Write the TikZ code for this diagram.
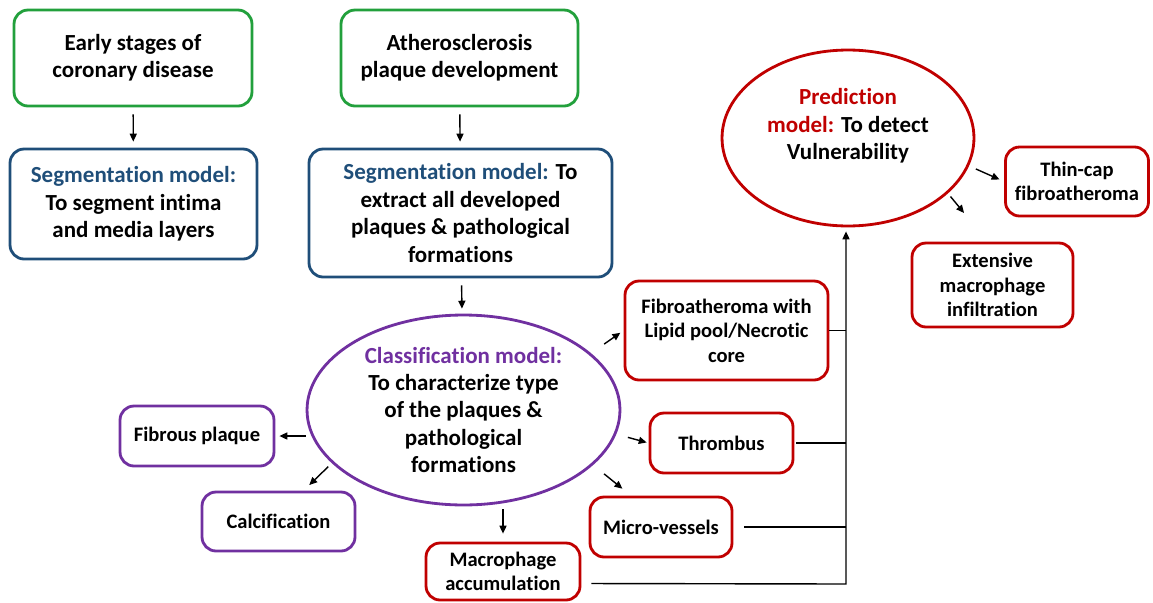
\documentclass[tikz,border=0pt]{standalone}
\usepackage{fontspec}
\setmainfont{Carlito}[Ligatures=NoCommon]
\usetikzlibrary{shapes.geometric,arrows.meta}
\definecolor{boxgreen}{HTML}{22A03C}
\definecolor{segblue}{HTML}{1F4E79}
\definecolor{clspurple}{HTML}{7030A0}
\definecolor{predred}{HTML}{C00000}

\begin{document}
\begin{tikzpicture}[x=0.02cm, y=-0.02cm,
		stagebox/.style={draw, line width=1.6pt, rounded corners=0.28cm, align=center, inner sep=0pt,
			font=\bfseries\fontsize{13.1}{15.6}\selectfont},
		leaf/.style={stagebox, font=\bfseries\fontsize{11.7}{13.9}\selectfont},
		oval/.style={draw, ellipse, line width=1.6pt, align=center, inner sep=0pt,
			font=\bfseries\fontsize{13.1}{15.6}\selectfont},
		arr/.style={-{Triangle[length=4.5pt,width=4pt]}, line width=0.8pt},
		link/.style={line width=0.8pt}]
		\useasboundingbox (0,0) rectangle (1153,602);

		% Starting points
		\node[stagebox, draw=boxgreen, minimum width=4.76cm, minimum height=1.92cm] (early) at (133,58)
			{Early stages of\\coronary disease};
		\node[stagebox, draw=boxgreen, minimum width=4.74cm, minimum height=1.92cm] (athero) at (459.5,58)
			{Atherosclerosis\\plaque development};

		% Segmentation
		\node[stagebox, draw=segblue, minimum width=4.94cm, minimum height=2.2cm] (seg1) at (133.5,204)
			{\textcolor{segblue}{Segmentation model:}\\To segment intima\\and media layers};
		\node[stagebox, draw=segblue, minimum width=6.06cm, minimum height=2.56cm] (seg2) at (460.5,213)
			{\textcolor{segblue}{Segmentation model:} To\\extract all developed\\plaques \& pathological\\formations};

		% Classification
		\node[oval, draw=clspurple, minimum width=6.26cm, minimum height=3.8cm] (class) at (463.5,410)
			{\textcolor{clspurple}{Classification model:}\\To characterize type\\of the plaques \&\\pathological\\formations};
		\node[leaf, draw=clspurple, minimum width=3.08cm, minimum height=1.2cm] (fib) at (197,436) {Fibrous plaque};
		\node[leaf, draw=clspurple, minimum width=3.06cm, minimum height=1.18cm] (calc) at (278.5,521.5) {Calcification};
		\node[leaf, draw=predred, minimum width=3.08cm, minimum height=1.14cm] (macro) at (503,571.5)
			{Macrophage\\accumulation};
		\node[leaf, draw=predred, minimum width=4.06cm, minimum height=1.98cm] (fibro) at (726.5,330.5)
			{Fibroatheroma with\\Lipid pool/Necrotic\\core};
		\node[leaf, draw=predred, minimum width=2.86cm, minimum height=1.2cm] (thromb) at (721.5,443) {Thrombus};
		\node[leaf, draw=predred, minimum width=2.84cm, minimum height=1.2cm] (micro) at (661,527) {Micro-vessels};

		% Prediction
		\node[oval, draw=predred, minimum width=5.04cm, minimum height=3.52cm] (pred) at (848,138)
			{\textcolor{predred}{Prediction}\\\textcolor{predred}{model:} To detect\\Vulnerability\\\mbox{}};
		\node[leaf, draw=predred, minimum width=2.86cm, minimum height=1.38cm] (thin) at (1077,181.5)
			{Thin-cap\\fibroatheroma};
		\node[leaf, draw=predred, minimum width=3.22cm, minimum height=1.68cm] (ext) at (992.5,285)
			{Extensive\\macrophage\\infiltration};

		\coordinate (jn) at (846,584);

		% Arrows
		\draw[arr, shorten <=0.14cm, shorten >=0.12cm] (early) -- (seg1);
		\draw[arr, shorten <=0.14cm, shorten >=0.12cm] (athero) -- (seg2);
		\draw[arr, shorten <=0.14cm, shorten >=0.1cm] (seg2) -- (class);
		\draw[arr, shorten >=0.08cm] (class.west |- fib) -- (fib);
		\draw[arr, shorten <=0.1cm, shorten >=0.16cm] (class.202) -- ([xshift=0.5cm]calc.north);
		\draw[arr, shorten <=0.06cm, shorten >=0.16cm] (macro.north |- class.south) -- (macro.north);
		\draw[arr, shorten <=0.32cm, shorten >=0.08cm] (class.24) -- (fibro.west);
		\draw[arr, shorten <=0.24cm, shorten >=0.04cm] (class.-9) -- (thromb.west);
		\draw[arr, shorten <=0.28cm, shorten >=0.22cm] (class.-23) -- ([xshift=-0.6cm]micro.north);
		\draw[arr, shorten <=0.15cm, shorten >=0.1cm] (pred.-13) -- (thin.west);
		\draw[arr, shorten <=0.08cm, shorten >=0.74cm] (pred.-29) -- ([xshift=-0.1cm]ext.north);

		% Collecting lines
		\draw[link] (fibro.east) -- (fibro.east -| jn);
		\draw[link, shorten <=0.04cm] (thromb.east) -- (thromb.east -| jn);
		\draw[link, shorten <=0.22cm] (micro.east) -- (micro.east -| jn);
		\draw[arr, shorten <=0.2cm, shorten >=0.08cm] ([yshift=-0.24cm]macro.east) -- (jn) -- (pred.south -| jn);
	\end{tikzpicture}
\end{document}
